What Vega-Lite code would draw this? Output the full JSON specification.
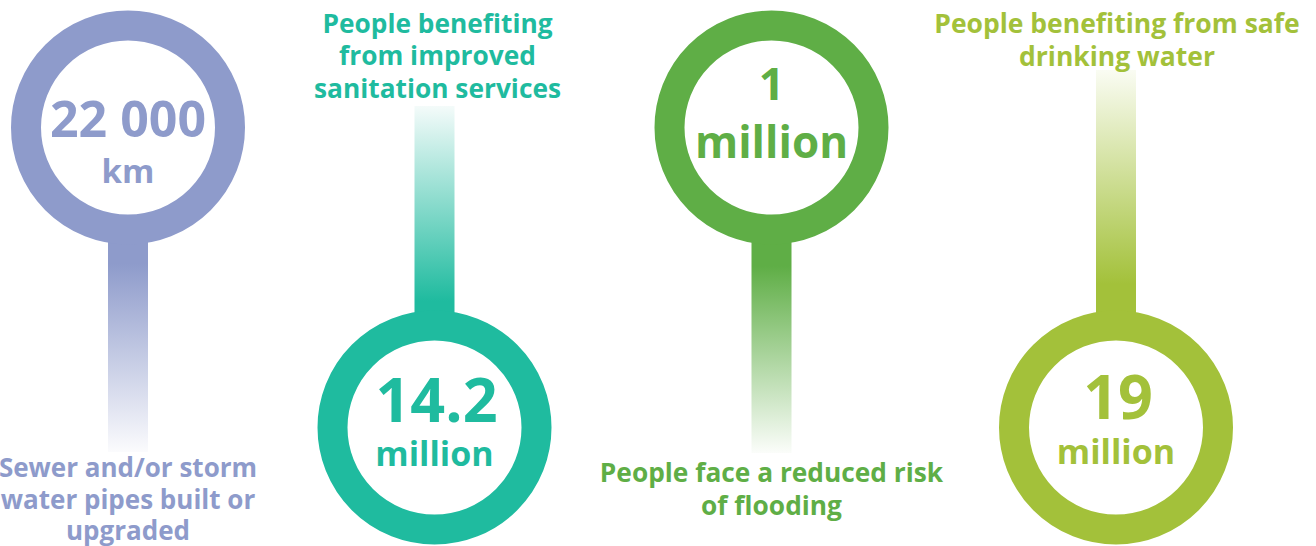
{
  "$schema": "https://vega.github.io/schema/vega-lite/v6.json",
  "width": 1316,
  "height": 546,
  "padding": 0,
  "autosize": {"type": "none"},
  "background": "white",
  "config": {"view": {"stroke": null}},
  "data": {
    "values": [
      {"item": "pipes", "col": 0, "row": 0, "value": "22 000", "unit": "km", "caption": ["Sewer and/or storm", "water pipes built or", "upgraded"]},
      {"item": "sanitation", "col": 1, "row": 1, "value": "14.2", "unit": "million", "caption": ["People benefiting", "from improved", "sanitation services"]},
      {"item": "flooding", "col": 2, "row": 0, "value": "1", "unit": "million", "caption": ["People face a reduced risk", "of flooding"]},
      {"item": "water", "col": 3, "row": 1, "value": "19", "unit": "million", "caption": ["People benefiting from safe", "drinking water"]}
    ]
  },
  "encoding": {
    "x": {"field": "col", "type": "quantitative", "axis": null, "scale": {"domain": [0, 1, 2, 3], "range": [128, 434.5, 771.5, 1116], "nice": false, "zero": false}},
    "y": {"field": "row", "type": "quantitative", "axis": null, "scale": {"domain": [0, 1], "range": [127.5, 427.5], "nice": false, "zero": false}}
  },
  "layer": [
    {
      "transform": [{"filter": "datum.item === 'pipes'"}],
      "layer": [
        {"mark": {"type": "rect", "width": 40, "yOffset": 100.5, "y2Offset": 324.5, "fill": {"gradient": "linear", "x1": 0, "y1": 0, "x2": 0, "y2": 1, "stops": [{"offset": 0, "color": "#8E9BCB"}, {"offset": 0.16, "color": "#8E9BCB"}, {"offset": 1, "color": "#fbfbfd"}]}}, "encoding": {"y2": {"field": "row"}}},
        {"mark": {"type": "point", "shape": "circle", "size": 41616, "strokeWidth": 30, "fill": "white", "stroke": "#8E9BCB", "opacity": 1, "filled": true}},
        {"mark": {"type": "text", "font": "Open Sans", "fontWeight": "bold", "fontSize": 50, "dy": 9.5, "baseline": "alphabetic", "align": "center", "color": "#8E9BCB"}, "encoding": {"text": {"field": "value"}}},
        {"mark": {"type": "text", "font": "Open Sans", "fontWeight": "bold", "fontSize": 33, "dy": 55.5, "baseline": "alphabetic", "align": "center", "color": "#8E9BCB"}, "encoding": {"text": {"field": "unit"}}},
        {"mark": {"type": "text", "font": "Open Sans", "fontWeight": "bold", "fontSize": 26, "lineHeight": 31.5, "dy": 349.5, "baseline": "alphabetic", "align": "center", "color": "#8E9BCB"}, "encoding": {"text": {"field": "caption"}}}
      ]
    },
    {
      "transform": [{"filter": "datum.item === 'sanitation'"}],
      "layer": [
        {"mark": {"type": "rect", "width": 40, "yOffset": -321.5, "y2Offset": -102.5, "fill": {"gradient": "linear", "x1": 0, "y1": 0, "x2": 0, "y2": 1, "stops": [{"offset": 0, "color": "#f4fbfa"}, {"offset": 0.89, "color": "#1FBB9F"}, {"offset": 1, "color": "#1FBB9F"}]}}, "encoding": {"y2": {"field": "row"}}},
        {"mark": {"type": "point", "shape": "circle", "size": 41616, "strokeWidth": 30, "fill": "white", "stroke": "#1FBB9F", "opacity": 1, "filled": true}},
        {"mark": {"type": "text", "font": "Open Sans", "fontWeight": "bold", "fontSize": 61, "dy": -5.5, "dx": 2, "baseline": "alphabetic", "align": "center", "color": "#1FBB9F"}, "encoding": {"text": {"field": "value"}}},
        {"mark": {"type": "text", "font": "Open Sans", "fontWeight": "bold", "fontSize": 34, "dy": 38.5, "baseline": "alphabetic", "align": "center", "color": "#1FBB9F"}, "encoding": {"text": {"field": "unit"}}},
        {"mark": {"type": "text", "font": "Open Sans", "fontWeight": "bold", "fontSize": 26.3, "lineHeight": 32.5, "dy": -395, "dx": 3, "baseline": "alphabetic", "align": "center", "color": "#1FBB9F"}, "encoding": {"text": {"field": "caption"}}}
      ]
    },
    {
      "transform": [{"filter": "datum.item === 'flooding'"}],
      "layer": [
        {"mark": {"type": "rect", "width": 40, "yOffset": 100.5, "y2Offset": 325.5, "fill": {"gradient": "linear", "x1": 0, "y1": 0, "x2": 0, "y2": 1, "stops": [{"offset": 0, "color": "#5FAE46"}, {"offset": 0.17, "color": "#5FAE46"}, {"offset": 1, "color": "#fbfdfa"}]}}, "encoding": {"y2": {"field": "row"}}},
        {"mark": {"type": "point", "shape": "circle", "size": 41616, "strokeWidth": 30, "fill": "white", "stroke": "#5FAE46", "opacity": 1, "filled": true}},
        {"mark": {"type": "text", "font": "Open Sans", "fontWeight": "bold", "fontSize": 45, "dy": -27.5, "baseline": "alphabetic", "align": "center", "color": "#5FAE46"}, "encoding": {"text": {"field": "value"}}},
        {"mark": {"type": "text", "font": "Open Sans", "fontWeight": "bold", "fontSize": 44, "dy": 30.5, "baseline": "alphabetic", "align": "center", "color": "#5FAE46"}, "encoding": {"text": {"field": "unit"}}},
        {"mark": {"type": "text", "font": "Open Sans", "fontWeight": "bold", "fontSize": 26.3, "lineHeight": 32.5, "dy": 354.5, "baseline": "alphabetic", "align": "center", "color": "#5FAE46"}, "encoding": {"text": {"field": "caption"}}}
      ]
    },
    {
      "transform": [{"filter": "datum.item === 'water'"}],
      "layer": [
        {"mark": {"type": "rect", "width": 40, "yOffset": -357.5, "y2Offset": -102.5, "fill": {"gradient": "linear", "x1": 0, "y1": 0, "x2": 0, "y2": 1, "stops": [{"offset": 0, "color": "#fafcf3"}, {"offset": 0.84, "color": "#A3C13A"}, {"offset": 1, "color": "#A3C13A"}]}}, "encoding": {"y2": {"field": "row"}}},
        {"mark": {"type": "point", "shape": "circle", "size": 41616, "strokeWidth": 30, "fill": "white", "stroke": "#A3C13A", "opacity": 1, "filled": true}},
        {"mark": {"type": "text", "font": "Open Sans", "fontWeight": "bold", "fontSize": 61, "dy": -8.5, "dx": 2, "baseline": "alphabetic", "align": "center", "color": "#A3C13A"}, "encoding": {"text": {"field": "value"}}},
        {"mark": {"type": "text", "font": "Open Sans", "fontWeight": "bold", "fontSize": 34, "dy": 36.5, "baseline": "alphabetic", "align": "center", "color": "#A3C13A"}, "encoding": {"text": {"field": "unit"}}},
        {"mark": {"type": "text", "font": "Open Sans", "fontWeight": "bold", "fontSize": 26.5, "lineHeight": 32.5, "dy": -394.5, "dx": 1, "baseline": "alphabetic", "align": "center", "color": "#A3C13A"}, "encoding": {"text": {"field": "caption"}}}
      ]
    }
  ]
}
